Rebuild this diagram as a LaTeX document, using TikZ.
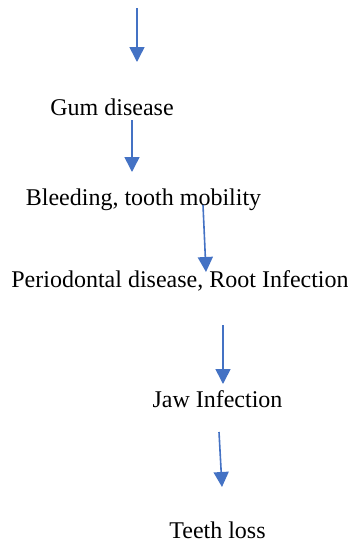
\documentclass[tikz,border=0pt]{standalone}
\usepackage{fontspec}
\setmainfont{Liberation Serif}
\definecolor{arrblue}{RGB}{68,114,196}
\usetikzlibrary{arrows.meta}

\begin{document}
\begin{tikzpicture}[x=0.5pt,y=-0.5pt,
    every node/.style={font=\fontsize{12pt}{14pt}\selectfont,inner sep=0pt},
    lbl/.style={anchor=base},
    arr/.style={-{Triangle[length=7.5pt,width=7.5pt]},line width=0.8pt,arrblue}]

  \useasboundingbox (0,0) rectangle (348,542);

  %% Labels
  \node[lbl] (gum)  at (112,115) {Gum disease};
  \node[lbl] (bleed) at (143.5,205) {Bleeding, tooth mobility};
  \node[lbl] (perio) at (180,287) {Periodontal disease, Root Infection};
  \node[lbl] (jaw)  at (217.5,407) {Jaw Infection};
  \node[lbl] (loss) at (217.5,538) {Teeth loss};

  %% Arrow ends
  \coordinate (a1s) at (137,8);   \coordinate (a1e) at (137,62);
  \coordinate (a2s) at (132,120); \coordinate (a2e) at (132,172);
  \coordinate (a3s) at (203,205); \coordinate (a3e) at (206,272);
  \coordinate (a4s) at (223,325); \coordinate (a4e) at (223,384);
  \coordinate (a5s) at (219,432); \coordinate (a5e) at (222,487);

  %% Arrows
  \draw[arr] (a1s) -- (a1e);
  \draw[arr] (a2s) -- (a2e);
  \draw[arr] (a3s) -- (a3e);
  \draw[arr] (a4s) -- (a4e);
  \draw[arr] (a5s) -- (a5e);
\end{tikzpicture}
\end{document}
